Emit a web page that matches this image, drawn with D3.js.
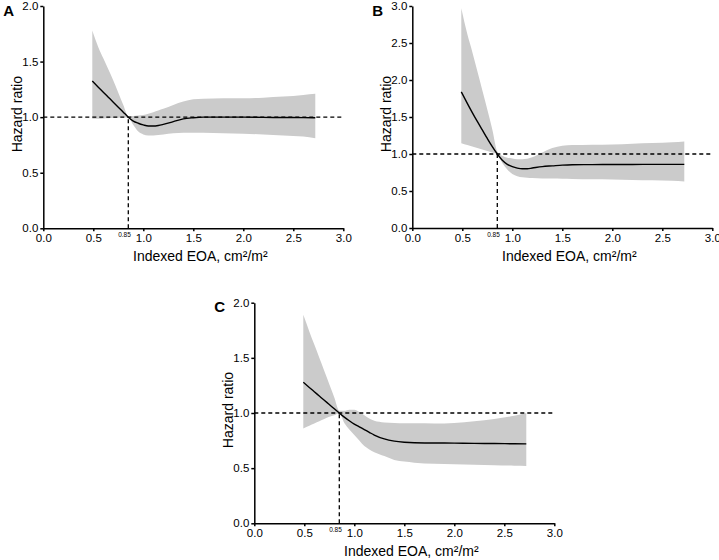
<!DOCTYPE html>
<html>
<head>
<meta charset="utf-8">
<script src="https://cdn.jsdelivr.net/npm/d3@7"></script>
<style>
  body { margin: 0; background: #fff; }
  svg { font-family: "Liberation Sans", Arial, sans-serif; }
  .axis path, .axis line { stroke: #000; stroke-width: 1.5; }
  .axis text { font-size: 11.5px; fill: #000; }
</style>
</head>
<body>
<div id="chart"></div>
<script>
// x positions (indexed EOA) shared by all three panels
var eoa = [0.49, 0.55, 0.6, 0.65, 0.7, 0.75, 0.8, 0.85, 0.9, 0.95, 1.0, 1.05, 1.1, 1.15, 1.2,
           1.3, 1.4, 1.5, 1.6, 1.8, 2.0, 2.2, 2.4, 2.6, 2.72];

// panel A
var hrA    = [1.325, 1.27, 1.225, 1.18, 1.135, 1.09, 1.045, 1.0, 0.965, 0.945, 0.93, 0.92, 0.92, 0.925, 0.935,
              0.96, 0.985, 0.995, 1.0, 1.0, 1.0, 0.998, 0.997, 0.996, 0.995];
var upperA = [1.78, 1.63, 1.53, 1.43, 1.33, 1.22, 1.11, 1.01, 1.01, 1.015, 1.02, 1.03, 1.045, 1.06, 1.075,
              1.11, 1.14, 1.16, 1.165, 1.17, 1.17, 1.175, 1.185, 1.2, 1.21];
var lowerA = [0.985, 0.985, 0.988, 0.99, 0.992, 0.995, 0.997, 0.995, 0.93, 0.87, 0.845, 0.835, 0.835, 0.84, 0.845,
              0.855, 0.86, 0.86, 0.86, 0.855, 0.85, 0.845, 0.835, 0.825, 0.81];

// panel B
var hrB    = [1.84, 1.685, 1.56, 1.44, 1.325, 1.21, 1.10, 1.0, 0.915, 0.86, 0.83, 0.81, 0.80, 0.80, 0.81,
              0.83, 0.84, 0.85, 0.855, 0.857, 0.858, 0.859, 0.86, 0.86, 0.86];
var upperB = [2.97, 2.62, 2.38, 2.12, 1.86, 1.60, 1.33, 1.03, 0.975, 0.95, 0.94, 0.93, 0.93, 0.935, 0.955,
              1.02, 1.08, 1.11, 1.12, 1.125, 1.13, 1.14, 1.15, 1.16, 1.17];
var lowerB = [1.145, 1.12, 1.10, 1.08, 1.06, 1.04, 1.02, 0.995, 0.88, 0.79, 0.73, 0.70, 0.685, 0.68, 0.675,
              0.67, 0.668, 0.665, 0.662, 0.658, 0.655, 0.65, 0.645, 0.638, 0.63];

// panel C
var hrC    = [1.278, 1.232, 1.193, 1.154, 1.115, 1.077, 1.038, 1.0, 0.963, 0.93, 0.90, 0.875, 0.85, 0.825, 0.80,
              0.765, 0.745, 0.735, 0.73, 0.728, 0.727, 0.725, 0.723, 0.721, 0.72];
var upperC = [1.89, 1.74, 1.62, 1.50, 1.38, 1.26, 1.14, 1.02, 1.02, 1.03, 1.03, 1.01, 0.98, 0.95, 0.93,
              0.915, 0.91, 0.908, 0.906, 0.905, 0.91, 0.925, 0.945, 0.975, 1.0];
var lowerC = [0.86, 0.885, 0.905, 0.925, 0.945, 0.965, 0.98, 0.995, 0.91, 0.85, 0.80, 0.75, 0.70, 0.67, 0.645,
              0.61, 0.575, 0.56, 0.55, 0.54, 0.535, 0.53, 0.527, 0.522, 0.52];

var xTicks = [0, 0.5, 1.0, 1.5, 2.0, 2.5, 3.0];
var cutoff = 0.85;

var panels = [
  {label: "A", left: 43.3,  top: 6,     bottom: 228.3, yMax: 2, hr: hrA, upper: upperA, lower: lowerA},
  {label: "B", left: 412.3, top: 6,     bottom: 228,   yMax: 3, hr: hrB, upper: upperB, lower: lowerB},
  {label: "C", left: 254.3, top: 302.7, bottom: 523.3, yMax: 2, hr: hrC, upper: upperC, lower: lowerC}
];

var width = 719,
    height = 560,
    plotWidth = 300;

var svg = d3.select('#chart')
    .append('svg')
    .attr('width', width)
    .attr('height', height);

panels.forEach(drawPanel);

function drawPanel(p) {
    var x = d3.scaleLinear().domain([0, 3]).range([p.left, p.left + plotWidth]);
    var y = d3.scaleLinear().domain([0, p.yMax]).range([p.bottom, p.top]);

    var rows = eoa.map(function (e, i) {
        return {x: e, hr: p.hr[i], lo: p.lower[i], hi: p.upper[i]};
    });

    var g = svg.append('g');

    g.append('path')
        .datum(rows)
        .attr('fill', '#cbcbcb')
        .attr('d', d3.area()
            .curve(d3.curveMonotoneX)
            .x(function (d) { return x(d.x); })
            .y0(function (d) { return y(d.lo); })
            .y1(function (d) { return y(d.hi); }));

    // reference lines
    g.append('line')
        .attr('x1', x(0)).attr('x2', x(3))
        .attr('y1', y(1)).attr('y2', y(1))
        .attr('stroke', '#000').attr('stroke-width', 1.3)
        .attr('stroke-dasharray', '4,3');

    g.append('line')
        .attr('x1', x(cutoff)).attr('x2', x(cutoff))
        .attr('y1', y(0)).attr('y2', y(1))
        .attr('stroke', '#000').attr('stroke-width', 1.3)
        .attr('stroke-dasharray', '4,3');

    g.append('path')
        .datum(rows)
        .attr('fill', 'none')
        .attr('stroke', '#000')
        .attr('stroke-width', 1.4)
        .attr('d', d3.line()
            .curve(d3.curveMonotoneX)
            .x(function (d) { return x(d.x); })
            .y(function (d) { return y(d.hr); }));

    g.append('g')
        .attr('class', 'axis')
        .attr('transform', 'translate(0,' + p.bottom + ')')
        .call(d3.axisBottom(x).tickValues(xTicks).tickFormat(d3.format('.1f')).tickSize(3).tickSizeOuter(0).tickPadding(3));

    g.append('g')
        .attr('class', 'axis')
        .attr('transform', 'translate(' + p.left + ',0)')
        .call(d3.axisLeft(y).tickValues(d3.range(0, p.yMax + 0.01, 0.5)).tickFormat(d3.format('.1f')).tickSize(3).tickSizeOuter(0).tickPadding(2));

    g.append('text')
        .attr('x', x(cutoff) + 2.5)
        .attr('y', p.bottom + 8.5)
        .attr('text-anchor', 'end')
        .attr('font-size', 6.5)
        .text(cutoff.toFixed(2));

    g.append('text')
        .attr('x', x(1.5) + 7)
        .attr('y', p.bottom + 33)
        .attr('text-anchor', 'middle')
        .attr('font-size', 14)
        .text('Indexed EOA, cm²/m²');

    g.append('text')
        .attr('transform', 'translate(' + (p.left - 21.5) + ',' + ((p.top + p.bottom) / 2 - 3) + ') rotate(-90)')
        .attr('text-anchor', 'middle')
        .attr('font-size', 14)
        .text('Hazard ratio');

    g.append('text')
        .attr('x', p.left - 40)
        .attr('y', p.top + 9.5)
        .attr('font-size', 15)
        .attr('font-weight', 'bold')
        .text(p.label);
}
</script>
</body>
</html>
